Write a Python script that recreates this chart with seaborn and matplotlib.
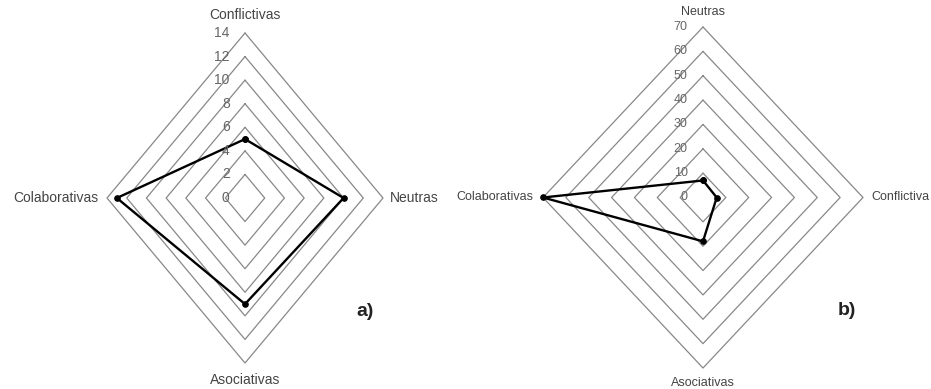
import numpy as np
import pandas as pd
import seaborn as sns
import matplotlib
matplotlib.use("Agg")
import matplotlib.pyplot as plt

# panel a)
cats_a = ["Conflictivas", "Neutras", "Asociativas", "Colaborativas"]
vals_a = [5, 10, 9, 13]
ticks_a = [0, 2, 4, 6, 8, 10, 12, 14]

# panel b)
cats_b = ["Neutras", "Conflictiva", "Asociativas", "Colaborativas"]
vals_b = [7, 6, 18, 70]
ticks_b = [0, 10, 20, 30, 40, 50, 60, 70]

sns.set_style("white")
plt.rcParams['font.family'] = ['Liberation Sans', 'DejaVu Sans']

# axis order: top, right, bottom, left
angles = np.deg2rad([90, 0, -90, 180])


def to_xy(values):
    xs = [v * np.cos(a) for v, a in zip(values, angles)]
    ys = [v * np.sin(a) for v, a in zip(values, angles)]
    return xs + xs[:1], ys + ys[:1]


def diamond(ax, cats, vals, ticks, fs_lab, fs_tick, pads, tag, tag_pos):
    rmax = ticks[-1]
    # grid rings
    rows = []
    for r in ticks[1:]:
        xs, ys = to_xy([r] * 4)
        for i, (x, y) in enumerate(zip(xs, ys)):
            rows.append({"ring": r, "order": i, "x": x, "y": y})
    rings = pd.DataFrame(rows)
    sns.lineplot(data=rings, x="x", y="y", units="ring", estimator=None,
                 sort=False, color="#888888", linewidth=0.9, clip_on=False, ax=ax)

    # data polygon
    xs, ys = to_xy(vals)
    poly = pd.DataFrame({"x": xs, "y": ys})
    sns.lineplot(data=poly, x="x", y="y", sort=False, estimator=None,
                 color="black", linewidth=1.7, marker="o", markersize=4,
                 markeredgecolor="black", clip_on=False, ax=ax)

    # tick labels along the top axis
    for t in ticks:
        ax.annotate(str(t), (0, t), xytext=(-11, 0), textcoords="offset points",
                    ha="right", va="center", fontsize=fs_tick, color="#666666")

    # category labels
    pt, pr, pb, pl = pads
    ax.annotate(cats[0], (0, rmax), xytext=(0, pt), textcoords="offset points",
                ha="center", va="center", fontsize=fs_lab, color="#444444")
    ax.annotate(cats[1], (rmax, 0), xytext=(pr, 0), textcoords="offset points",
                ha="left", va="center", fontsize=fs_lab, color="#444444")
    ax.annotate(cats[2], (0, -rmax), xytext=(0, -pb), textcoords="offset points",
                ha="center", va="center", fontsize=fs_lab, color="#444444")
    ax.annotate(cats[3], (-rmax, 0), xytext=(-pl, 0), textcoords="offset points",
                ha="right", va="center", fontsize=fs_lab, color="#444444")

    ax.set_xlim(-rmax, rmax)
    ax.set_ylim(-rmax, rmax)
    ax.set_xlabel("")
    ax.set_ylabel("")
    ax.axis("off")
    ax.text(rmax * tag_pos[0], -rmax * tag_pos[1], tag, fontsize=14,
            fontweight="bold", ha="center", va="center", color="#222222")


fig = plt.figure(figsize=(9.31, 3.89), dpi=100)
W, H = 931, 389

# pixel extents of each diamond: left, right, top, bottom
ax_a = fig.add_axes([107 / W, (H - 363) / H, 276 / W, 330 / H])
ax_b = fig.add_axes([543 / W, (H - 368) / H, 320 / W, 341 / H])

diamond(ax_a, cats_a, vals_a, ticks_a, 10, 10, (13, 5, 12, 6), "a)", (0.87, 0.69))
diamond(ax_b, cats_b, vals_b, ticks_b, 9, 9, (11, 6, 11, 7), "b)", (0.90, 0.66))

fig.savefig("out.png", dpi=100)
